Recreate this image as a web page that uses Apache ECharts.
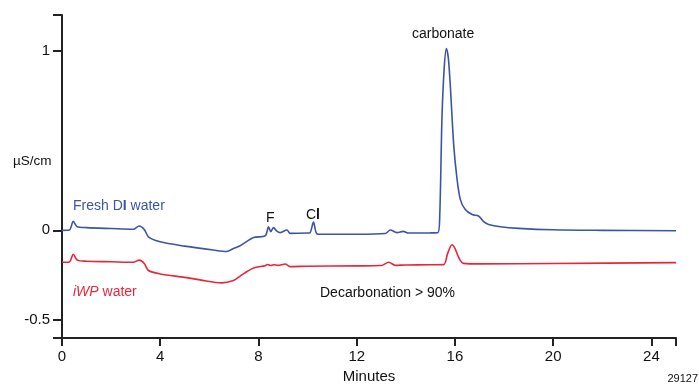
<!DOCTYPE html>
<html>
<head>
<meta charset="utf-8">
<script src="https://cdn.jsdelivr.net/npm/echarts@6/dist/echarts.min.js"></script>
<style>
  html, body { margin: 0; padding: 0; background: #fff; }
  #main { width: 699px; height: 389px; }
</style>
</head>
<body>
<div id="main"></div>
<script>
// 数据：保留时间（分钟）和电导（µS/cm）
var freshMinutes = [0, 0.3, 0.46, 0.62, 1.0, 2.0, 2.9, 3.14, 3.35, 3.52, 4.0, 5.0, 6.16, 6.7, 7.0, 7.25, 7.8, 8.27, 8.41, 8.5, 8.61, 8.75, 8.88, 9.16, 9.29, 10.0, 10.1, 10.24, 10.37, 10.6, 12.0, 13.16, 13.37, 13.64, 13.9, 14.1, 15.0, 15.3, 15.38, 15.47, 15.56, 15.65, 15.73, 15.81, 15.95, 16.08, 16.22, 16.42, 16.7, 16.96, 17.17, 17.37, 17.85, 18.6, 20, 22, 25];
var freshValues = [0, 0.002, 0.05, 0.02, 0.015, 0.01, 0.006, 0.024, 0.005, -0.036, -0.064, -0.088, -0.11, -0.118, -0.1, -0.086, -0.04, -0.031, 0.019, -0.007, 0.015, -0.005, -0.013, 0.002, -0.017, -0.015, -0.013, 0.046, -0.018, -0.022, -0.022, -0.018, 0.002, -0.013, -0.006, -0.015, -0.014, -0.013, 0.08, 0.622, 0.9, 1.013, 0.96, 0.807, 0.475, 0.291, 0.171, 0.116, 0.088, 0.08, 0.048, 0.033, 0.02, 0.011, 0.003, 0.0, -0.002];

var iwpMinutes = [0, 0.3, 0.46, 0.62, 1.0, 2.0, 2.9, 3.15, 3.35, 3.52, 4.0, 5.0, 5.62, 6.5, 6.98, 7.25, 7.8, 8.27, 8.37, 8.5, 8.61, 8.8, 9.09, 9.29, 10, 12, 13.0, 13.3, 13.57, 14, 15.0, 15.54, 15.7, 15.88, 16.0, 16.15, 16.35, 17, 20, 25];
var iwpValues = [-0.178, -0.176, -0.133, -0.166, -0.172, -0.175, -0.178, -0.166, -0.185, -0.224, -0.243, -0.262, -0.276, -0.293, -0.28, -0.255, -0.21, -0.197, -0.19, -0.196, -0.192, -0.195, -0.188, -0.202, -0.2, -0.198, -0.196, -0.178, -0.195, -0.193, -0.192, -0.191, -0.13, -0.08, -0.1, -0.151, -0.184, -0.187, -0.185, -0.18];

var xTicks = [0, 4, 8, 12, 16, 20, 24];
var yTicks = [-0.5, 0, 1];

function pairs(xs, ys) {
    var out = [];
    for (var i = 0; i < xs.length; i++) out.push([xs[i], ys[i]]);
    return out;
}

var FONT = 'Liberation Sans, Arial, sans-serif';
var BLUE = '#3b55a5';
var RED = '#e8263b';

var myChart = echarts.init(document.getElementById('main'));
var option = {
    animation: false,
    backgroundColor: '#fff',
    grid: { left: 62, right: 23, top: 15, bottom: 47 },
    xAxis: {
        type: 'value',
        min: 0, max: 25,
        name: 'Minutes',
        nameLocation: 'middle',
        nameGap: 31,
        nameTextStyle: { color: '#111', fontSize: 15, fontFamily: FONT },
        axisLine: { onZero: false, lineStyle: { color: '#222', width: 2 } },
        axisTick: { length: 8, lineStyle: { color: '#222', width: 2 }, customValues: xTicks.concat([25]) },
        axisLabel: { color: '#111', fontSize: 15, fontFamily: FONT, margin: 11, customValues: xTicks },
        splitLine: { show: false }
    },
    yAxis: {
        type: 'value',
        min: -0.6, max: 1.2,
        axisLine: { show: true, onZero: false, lineStyle: { color: '#222', width: 2 } },
        axisTick: { show: true, length: 9, lineStyle: { color: '#222', width: 2 }, customValues: [-0.6].concat(yTicks, [1.2]) },
        axisLabel: { color: '#111', fontSize: 15, fontFamily: FONT, margin: 12, customValues: yTicks },
        splitLine: { show: false }
    },
    series: [
        {
            name: 'Fresh DI water',
            type: 'line',
            data: pairs(freshMinutes, freshValues),
            showSymbol: false,
            smooth: 0.3,
            lineStyle: { color: BLUE, width: 1.6 },
            z: 3
        },
        {
            name: 'iWP water',
            type: 'line',
            data: pairs(iwpMinutes, iwpValues),
            showSymbol: false,
            smooth: 0.3,
            lineStyle: { color: RED, width: 1.6 },
            z: 2
        }
    ],
    graphic: [
        { type: 'text', left: 13, top: 154, style: { text: 'µS/cm', fill: '#111', font: '13.5px ' + FONT } },
        { type: 'text', left: 73, top: 199, style: {
            text: '{a|Fresh D}{b|I}{a| water}',
            rich: {
                a: { fill: BLUE, font: '14px ' + FONT },
                b: { fill: BLUE, font: 'bold 14px ' + FONT }
            }
        } },
        { type: 'text', left: 73, top: 285, style: {
            text: '{i|iWP}{a| water}',
            rich: {
                i: { fill: RED, font: 'italic 14px ' + FONT },
                a: { fill: RED, font: '14px ' + FONT }
            }
        } },
        { type: 'text', left: 266, top: 211, style: { text: 'F', fill: '#111', font: '14px ' + FONT } },
        { type: 'text', left: 306, top: 208, style: { text: 'C{b|l}', fill: '#111', font: '14px ' + FONT, rich: { b: { fill: '#111', font: 'bold 14px ' + FONT } } } },
        { type: 'text', left: 412, top: 27, style: { text: 'carbonate', fill: '#111', font: '14px ' + FONT } },
        { type: 'text', left: 320, top: 286, style: { text: 'Decarbonation > 90%', fill: '#111', font: '14px ' + FONT } },
        { type: 'text', right: 1, top: 373, style: { text: '29127', fill: '#111', font: '11px ' + FONT } }
    ]
};
myChart.setOption(option);
</script>
</body>
</html>
